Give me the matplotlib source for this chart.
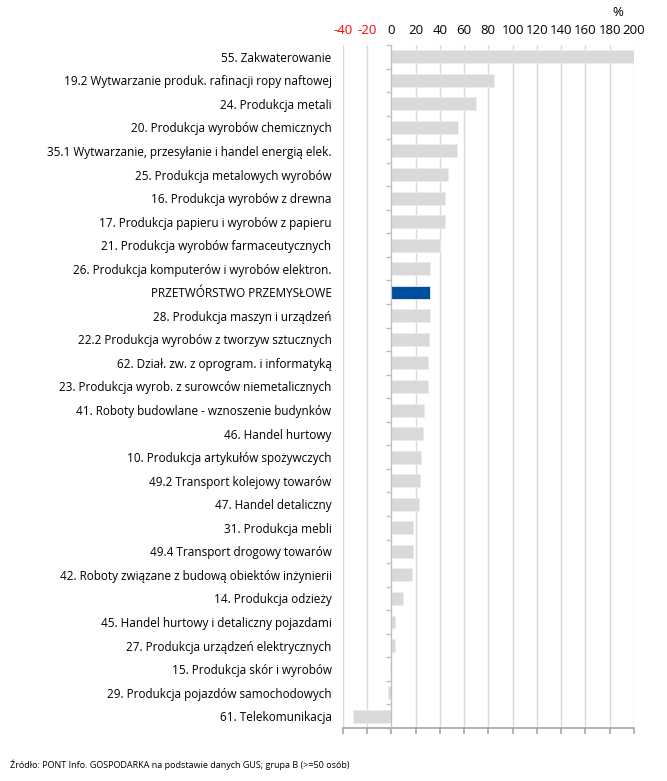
import matplotlib.pyplot as plt
import numpy as np

plt.rcParams['font.family'] = ['Open Sans', 'DejaVu Sans']

kategorie = [
    '55. Zakwaterowanie',
    '19.2 Wytwarzanie produk. rafinacji ropy naftowej',
    '24. Produkcja metali',
    '20. Produkcja wyrobów chemicznych',
    '35.1 Wytwarzanie, przesyłanie i handel energią elek.',
    '25. Produkcja metalowych wyrobów',
    '16. Produkcja wyrobów z drewna',
    '17. Produkcja papieru i wyrobów z papieru',
    '21. Produkcja wyrobów farmaceutycznych',
    '26. Produkcja komputerów i wyrobów elektron.',
    'PRZETWÓRSTWO PRZEMYSŁOWE',
    '28. Produkcja maszyn i urządzeń',
    '22.2 Produkcja wyrobów z tworzyw sztucznych',
    '62. Dział. zw. z oprogram. i informatyką',
    '23. Produkcja wyrob. z surowców niemetalicznych',
    '41. Roboty budowlane - wznoszenie budynków',
    '46. Handel hurtowy',
    '10. Produkcja artykułów spożywczych',
    '49.2 Transport kolejowy towarów',
    '47. Handel detaliczny',
    '31. Produkcja mebli',
    '49.4 Transport drogowy towarów',
    '42. Roboty związane z budową obiektów inżynierii',
    '14. Produkcja odzieży',
    '45. Handel hurtowy i detaliczny pojazdami',
    '27. Produkcja urządzeń elektrycznych',
    '15. Produkcja skór i wyrobów',
    '29. Produkcja pojazdów samochodowych',
    '61. Telekomunikacja',
]
wartosci = [200, 85, 70, 55, 54, 47, 44.5, 44, 40, 32, 32, 32, 31, 30.5, 30.5,
            27, 25.7, 24.8, 24, 23, 18, 18, 17, 10, 3, 3, -1, -2.5, -32]
wyrozniona = 'PRZETWÓRSTWO PRZEMYSŁOWE'

os_x = np.arange(-40, 201, 20)

fig = plt.figure(figsize=(6.67, 7.81), dpi=100)
ax = fig.add_axes([0.514, 0.0679, 0.4363, 0.8745])

y = np.arange(len(kategorie))
kolory = ['#004f9f' if k == wyrozniona else '#d9d9d9' for k in kategorie]
ax.barh(y, wartosci, height=0.55, color=kolory, edgecolor='#ececec',
        linewidth=0.6, zorder=3)

ax.set_ylim(len(kategorie) - 0.5, -0.5)
ax.set_xlim(-40, 200)

# os X: etykiety na gorze, znaczniki na dole
ax.set_xticks(os_x)
ax.set_xticklabels([str(v) for v in os_x], fontsize=9.5)
ax.tick_params(axis='x', bottom=True, top=False, labelbottom=False, labeltop=True,
               length=4, width=1.2, color='#a6a6a6', pad=1.5)
for tick, v in zip(ax.xaxis.get_major_ticks(), os_x):
    if v < 0:
        tick.label2.set_color('red')
ax.grid(axis='x', color='#d9d9d9', linewidth=1, zorder=0)

ax.spines['top'].set_visible(False)
ax.spines['right'].set_visible(False)
ax.spines['bottom'].set_color('#a6a6a6')
ax.spines['bottom'].set_linewidth(1.2)
ax.spines['left'].set_position(('data', 0))
ax.spines['left'].set_color('#bfbfbf')
ax.spines['left'].set_zorder(4)

# os kategorii na zerze, etykiety po lewej
ax.set_yticks(y)
ax.set_yticklabels(kategorie, fontsize=8.5)
ax.set_yticks(np.arange(-0.5, len(kategorie), 1), minor=True)
ax.tick_params(axis='y', which='major', length=0, pad=43)
ax.tick_params(axis='y', which='minor', length=3.5, color='#bfbfbf', width=1)

fig.text(0.927, 0.9835, '%', fontsize=9.5, ha='center', va='center')
fig.text(0.015, 0.014, 'Źródło: PONT Info. GOSPODARKA na podstawie danych GUS; grupa B (>=50 osób)',
         fontsize=6.5, ha='left', va='bottom')

fig.savefig('out.png', dpi=100)
